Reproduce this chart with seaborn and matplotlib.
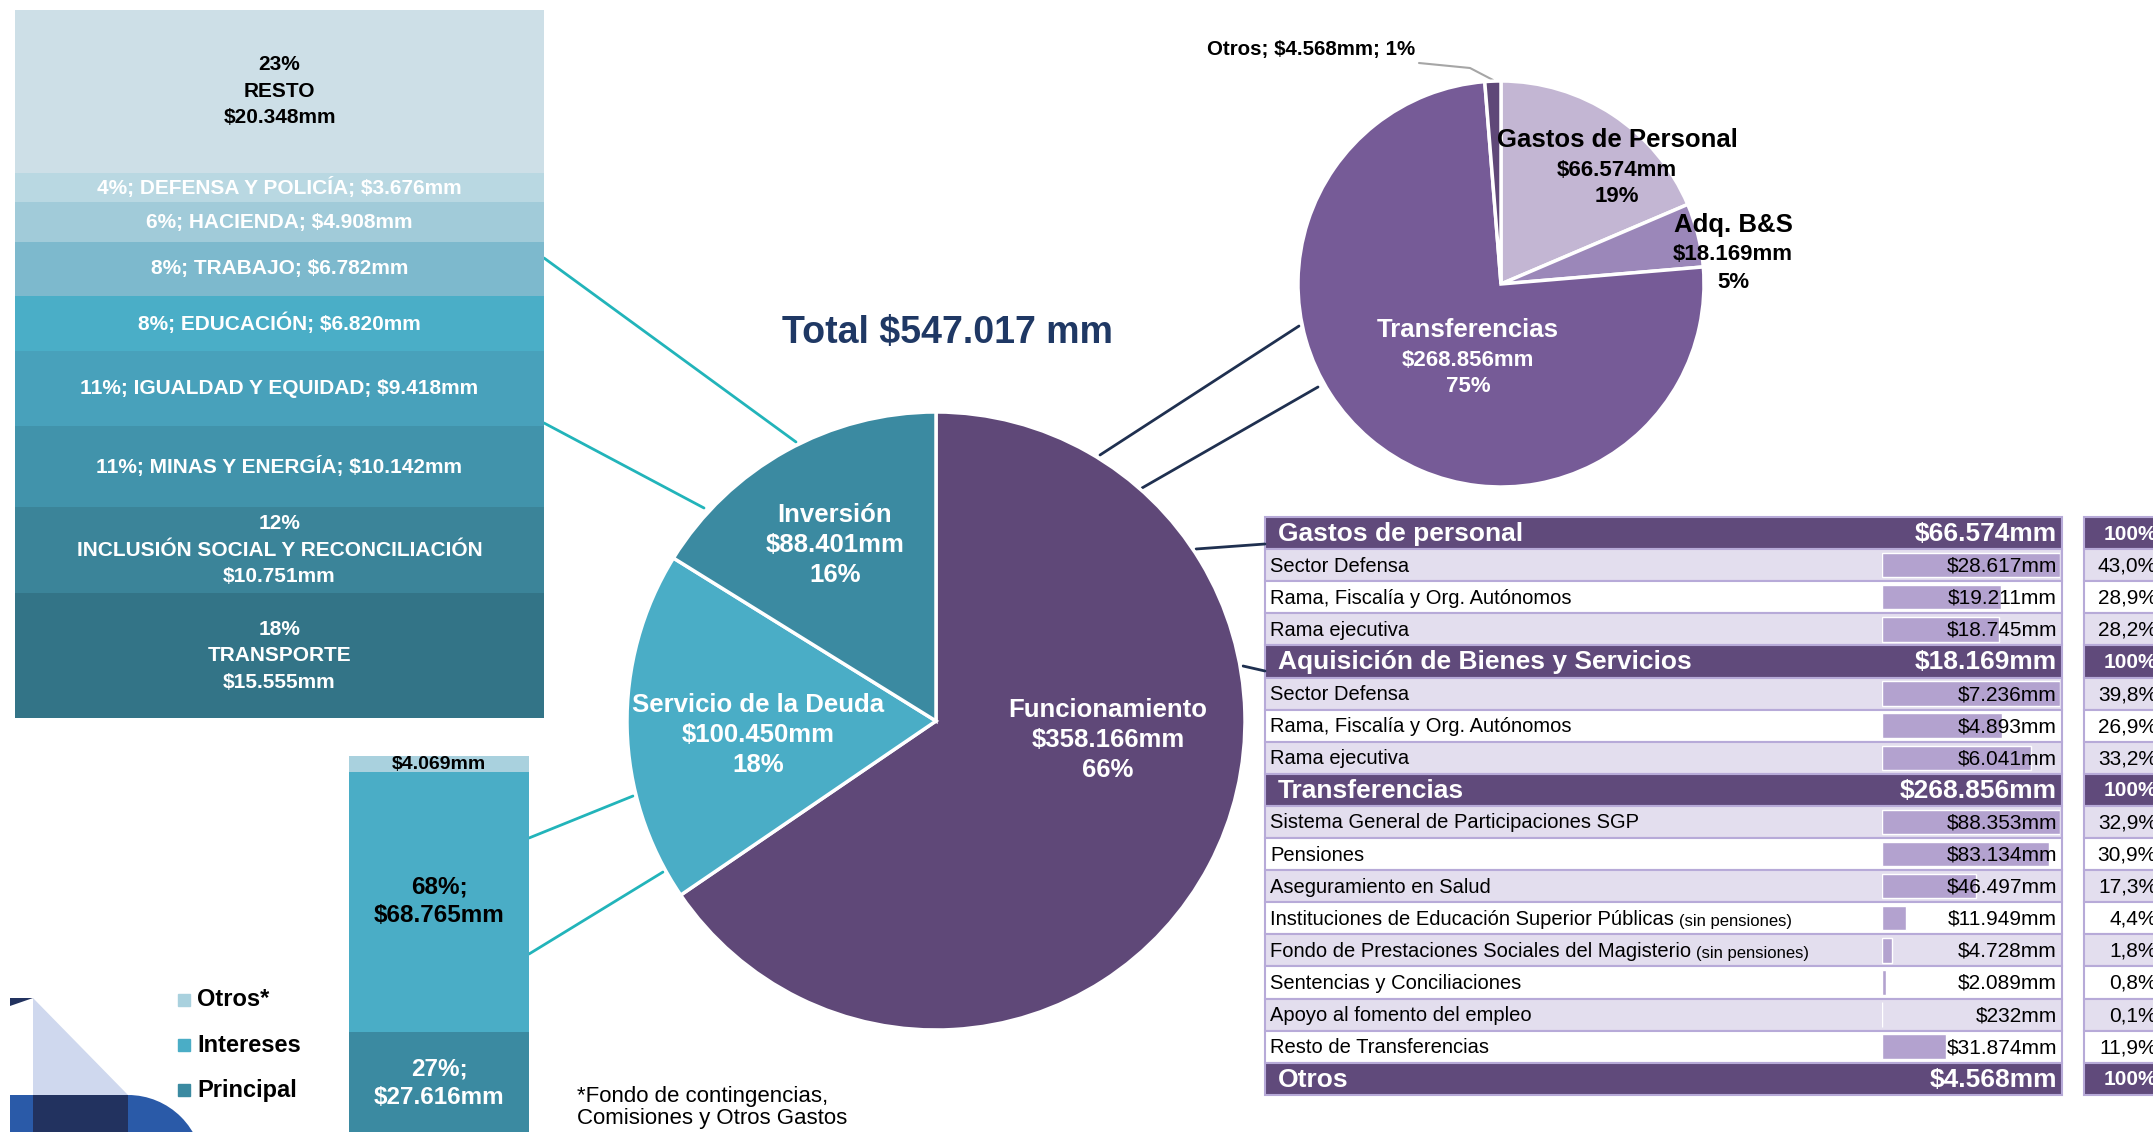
import numpy as np
import pandas as pd
import matplotlib
matplotlib.use('Agg')
import matplotlib.pyplot as plt
from matplotlib.patches import Rectangle, Polygon, Circle
import seaborn as sns

# =============================
# Data (values in $ miles de millones, "mm")
# =============================
total_label = 'Total $547.017 mm'

main_names = ['Funcionamiento', 'Servicio de la Deuda', 'Inversión']
main_values = [358166, 100450, 88401]
main_pct = [66, 18, 16]
main_colors = ['#5f4878', '#4aadc6', '#3b8aa1']

inv_names = ['RESTO', 'DEFENSA Y POLICÍA', 'HACIENDA', 'TRABAJO', 'EDUCACIÓN',
             'IGUALDAD Y EQUIDAD', 'MINAS Y ENERGÍA',
             'INCLUSIÓN SOCIAL Y RECONCILIACIÓN', 'TRANSPORTE']
inv_values = [20348, 3676, 4908, 6782, 6820, 9418, 10142, 10751, 15555]
inv_pct = [23, 4, 6, 8, 8, 11, 11, 12, 18]
inv_multiline = ['RESTO', 'INCLUSIÓN SOCIAL Y RECONCILIACIÓN', 'TRANSPORTE']
inv_colors = ['#cddfe7', '#b9d8e2', '#a1cbd9', '#7db9cd', '#4aaec7',
              '#48a1bb', '#4193ab', '#3b8499', '#337487']

debt_names = ['Otros*', 'Intereses', 'Principal']
debt_values = [4069, 68765, 27616]
debt_pct = [None, 68, 27]
debt_colors = ['#a9d1de', '#4aadc6', '#3b8aa1']
debt_note = '*Fondo de contingencias,\nComisiones y Otros Gastos'

func_names = ['Gastos de Personal', 'Adq. B&S', 'Transferencias', 'Otros']
func_values = [66574, 18169, 268856, 4568]
func_pct = [19, 5, 75, 1]
func_colors = ['#c3b6d3', '#9b87b9', '#765b97', '#5f4878']

group_names = ['Gastos de personal', 'Aquisición de Bienes y Servicios',
               'Transferencias', 'Otros']
group_totals = [66574, 18169, 268856, 4568]
personal_items = ['Sector Defensa', 'Rama, Fiscalía y Org. Autónomos', 'Rama ejecutiva']
personal_values = [28617, 19211, 18745]
byb_items = ['Sector Defensa', 'Rama, Fiscalía y Org. Autónomos', 'Rama ejecutiva']
byb_values = [7236, 4893, 6041]
transf_items = ['Sistema General de Participaciones SGP', 'Pensiones',
                'Aseguramiento en Salud',
                'Instituciones de Educación Superior Públicas',
                'Fondo de Prestaciones Sociales del Magisterio',
                'Sentencias y Conciliaciones', 'Apoyo al fomento del empleo',
                'Resto de Transferencias']
transf_notes = ['', '', '', '(sin pensiones)', '(sin pensiones)', '', '', '']
transf_values = [88353, 83134, 46497, 11949, 4728, 2089, 232, 31874]


def mm(v):
    return '$' + f'{v:,}'.replace(',', '.') + 'mm'


def pct_txt(v, tot):
    return f'{100 * v / tot:.1f}'.replace('.', ',') + '%'


# =============================
# Figure setup (pixel coordinates, y downwards)
# =============================
sns.set_theme(style='white')
plt.rcParams['font.family'] = ['Liberation Sans', 'DejaVu Sans']

W, H = 2153, 1132
fig = plt.figure(figsize=(W / 100, H / 100), dpi=100)
ax = fig.add_axes([0, 0, 1, 1])
ax.set_xlim(0, W)
ax.set_ylim(H, 0)
ax.axis('off')


def px_rect(x, y, w, h):
    return [x / W, 1 - (y + h) / H, w / W, h / H]


def put(x, y, s, **kw):
    kw.setdefault('ha', 'center')
    kw.setdefault('va', 'center')
    return fig.text(x, y, s, transform=ax.transData, **kw)


def pie_axes(cx, cy, r, pad=1.02):
    a = fig.add_axes(px_rect(cx - r * pad, cy - r * pad, 2 * r * pad, 2 * r * pad))
    return a


TEAL = '#22b4ba'
NAVY = '#1f3050'

# connector lines
for (x0, y0), (x1, y1) in [((544, 258), (796, 442)), ((544, 423), (704, 508)),
                           ((529, 838), (633, 796)), ((529, 954), (663, 872))]:
    ax.plot([x0, x1], [y0, y1], color=TEAL, lw=2)
for (x0, y0), (x1, y1) in [((1100, 455), (1299, 326)), ((1142, 488), (1318, 387)),
                           ((1196, 549), (1265, 544)), ((1243, 666), (1265, 671))]:
    ax.plot([x0, x1], [y0, y1], color=NAVY, lw=2)
ax.plot([1419, 1470, 1493], [63, 68, 80], color='#a6a6a6', lw=1.5)

# =============================
# Main pie
# =============================
cx, cy, r = 936, 721, 309
axp = pie_axes(cx, cy, r)
axp.pie(main_values, colors=main_colors, startangle=90, counterclock=False,
        wedgeprops=dict(edgecolor='white', linewidth=2.5))
axp.set_xlim(-1.02, 1.02)
axp.set_ylim(-1.02, 1.02)
for (fx, fy), name, v, p in zip([(0.557, -0.061), (-0.576, -0.045), (-0.327, 0.57)],
                                main_names, main_values, main_pct):
    put(cx + fx * r, cy - fy * r, f'{name}\n{mm(v)}\n{p}%', color='white',
        fontsize=18.5, fontweight='bold', linespacing=1.3)

put(947, 333, total_label, color='#1f3864', fontsize=27, fontweight='bold')

# =============================
# Funcionamiento breakdown pie
# =============================
cx2, cy2, r2 = 1501, 284, 203
axf = pie_axes(cx2, cy2, r2)
axf.pie(func_values, colors=func_colors, startangle=90, counterclock=False,
        wedgeprops=dict(edgecolor='white', linewidth=2.5))
axf.set_xlim(-1.02, 1.02)
axf.set_ylim(-1.02, 1.02)

for (x, y0), name, v, p, col in zip([(1617, 140), (1733, 225), (1468, 330)],
                                    func_names[:3], func_values[:3], func_pct[:3],
                                    ['black', 'black', 'white']):
    put(x, y0, name, color=col, fontsize=18.5, fontweight='bold')
    put(x, y0 + 30, mm(v), color=col, fontsize=16, fontweight='bold')
    put(x, y0 + 57, f'{p}%', color=col, fontsize=16, fontweight='bold')
put(1311, 49, f'{func_names[3]}; {mm(func_values[3])}; {func_pct[3]}%',
    fontsize=14.8, fontweight='bold', color='black')

# =============================
# Inversión stacked bar
# =============================
axi = fig.add_axes(px_rect(15, 10, 529, 708))
bottom = 0
inv_total = sum(inv_values)
for name, v, p, c in zip(inv_names, inv_values, inv_pct, inv_colors):
    axi.bar(0, v, bottom=bottom, width=1, color=c, linewidth=0)
    if name in inv_multiline:
        lab = f'{p}%\n{name}\n{mm(v)}'
    else:
        lab = f'{p}%; {name}; {mm(v)}'
    fig.text(0, bottom + v / 2, lab, transform=axi.transData, ha='center', va='center',
             fontsize=15, fontweight='bold', linespacing=1.5,
             color='black' if name == 'RESTO' else 'white')
    bottom += v
axi.set_xlim(-0.5, 0.5)
axi.set_ylim(inv_total, 0)
axi.axis('off')

# =============================
# Servicio de la Deuda stacked bar
# =============================
debt_total = sum(debt_values)
px_per_unit = 3.776 / 1000
axd = fig.add_axes(px_rect(349, 756.5, 180, debt_total * px_per_unit))
bottom = 0
for name, v, p, c in zip(debt_names, debt_values, debt_pct, debt_colors):
    axd.bar(0, v, bottom=bottom, width=1, color=c, linewidth=0)
    if p is None:
        lab, fs, col = mm(v), 14, 'black'
    else:
        lab, fs, col = f'{p}%;\n{mm(v)}', 17.5, ('black' if name == 'Intereses' else 'white')
    fig.text(0, bottom + v / 2, lab, transform=axd.transData, ha='center', va='center',
             fontsize=fs, fontweight='bold', color=col, linespacing=1.3)
    bottom += v
axd.set_xlim(-0.5, 0.5)
axd.set_ylim(debt_total, 0)
axd.axis('off')

# legend
for k, (name, c) in enumerate(zip(debt_names, debt_colors)):
    yy = 1000 + 45 * k
    ax.add_patch(Rectangle((178, yy - 6), 12, 12, color=c))
    put(197, yy, name, ha='left', fontsize=17, fontweight='bold', color='black')

put(577, 1086, debt_note, ha='left', va='top', fontsize=16, color='black',
    linespacing=1.05)

# decoration bottom-left
ax.add_patch(Circle((128, 1170), 75, color='#2a5aa8', lw=0))
ax.add_patch(Rectangle((10, 1095), 23, 40, color='#2a5aa8', lw=0))
ax.add_patch(Polygon([(33, 998), (128, 1095), (33, 1095)], closed=True,
                     color='#cfd8ee', lw=0))
ax.add_patch(Rectangle((33, 1095), 95, 40, color='#22325f', lw=0))
ax.add_patch(Polygon([(10, 998), (33, 998), (10, 1006)], closed=True,
                     color='#22325f', lw=0))

# =============================
# Table
# =============================
T_TOP, ROW_H = 517, 32.1
L_X0, L_X1 = 1265, 2062
P_X0, P_X1 = 2084, 2180
BAR_X0, BAR_X1 = 1882, 2060
HEAD_C, ALT_C, EDGE_C, BAR_C = '#604a7b', '#e3deee', '#b7aad8', '#b3a2cf'

group_items = [(personal_items, [''] * 3, personal_values),
               (byb_items, [''] * 3, byb_values),
               (transf_items, transf_notes, transf_values),
               ([], [], [])]

renderer = fig.canvas.get_renderer()
row = 0
for gname, gtot, (items, notes, vals) in zip(group_names, group_totals, group_items):
    y0 = T_TOP + row * ROW_H
    for x0, x1 in [(L_X0, L_X1), (P_X0, P_X1)]:
        ax.add_patch(Rectangle((x0, y0), x1 - x0, ROW_H, facecolor=HEAD_C,
                               edgecolor=EDGE_C, lw=1.5))
    yc = y0 + ROW_H / 2 + 1
    put(1278, yc, gname, ha='left', color='white', fontsize=19, fontweight='bold')
    put(2057, yc, mm(gtot), ha='right', color='white', fontsize=19, fontweight='bold')
    put(2157, yc, '100%', ha='right', color='white', fontsize=15, fontweight='bold')
    row += 1
    if not items:
        continue
    g_top = T_TOP + row * ROW_H
    for j, (it, nt, v) in enumerate(zip(items, notes, vals)):
        y0 = T_TOP + row * ROW_H
        fc = ALT_C if j % 2 == 0 else 'white'
        for x0, x1 in [(L_X0, L_X1), (P_X0, P_X1)]:
            ax.add_patch(Rectangle((x0, y0), x1 - x0, ROW_H, facecolor=fc,
                                   edgecolor=EDGE_C, lw=1.5))
        yc = y0 + ROW_H / 2 + 1
        t = put(1270, yc, it, ha='left', fontsize=14.5, color='black')
        if nt:
            bb = t.get_window_extent(renderer)
            put(bb.x1 + 5, yc + 2, nt, ha='left', fontsize=12, color='black')
        put(2057, yc, mm(v), ha='right', fontsize=15, color='black')
        put(2157, yc, pct_txt(v, gtot), ha='right', fontsize=15, color='black')
        row += 1
    # in-cell data bars
    axb = fig.add_axes(px_rect(BAR_X0, g_top, BAR_X1 - BAR_X0, len(vals) * ROW_H))
    df = pd.DataFrame({'item': [str(k) for k in range(len(vals))], 'value': vals})
    sns.barplot(data=df, x='value', y='item', orient='h', color=BAR_C,
                saturation=1, width=0.76, ax=axb)
    axb.set_xlim(0, max(vals))
    axb.set_ylim(len(vals) - 0.5, -0.5)
    axb.axis('off')

fig.savefig('out.png', dpi=100)
